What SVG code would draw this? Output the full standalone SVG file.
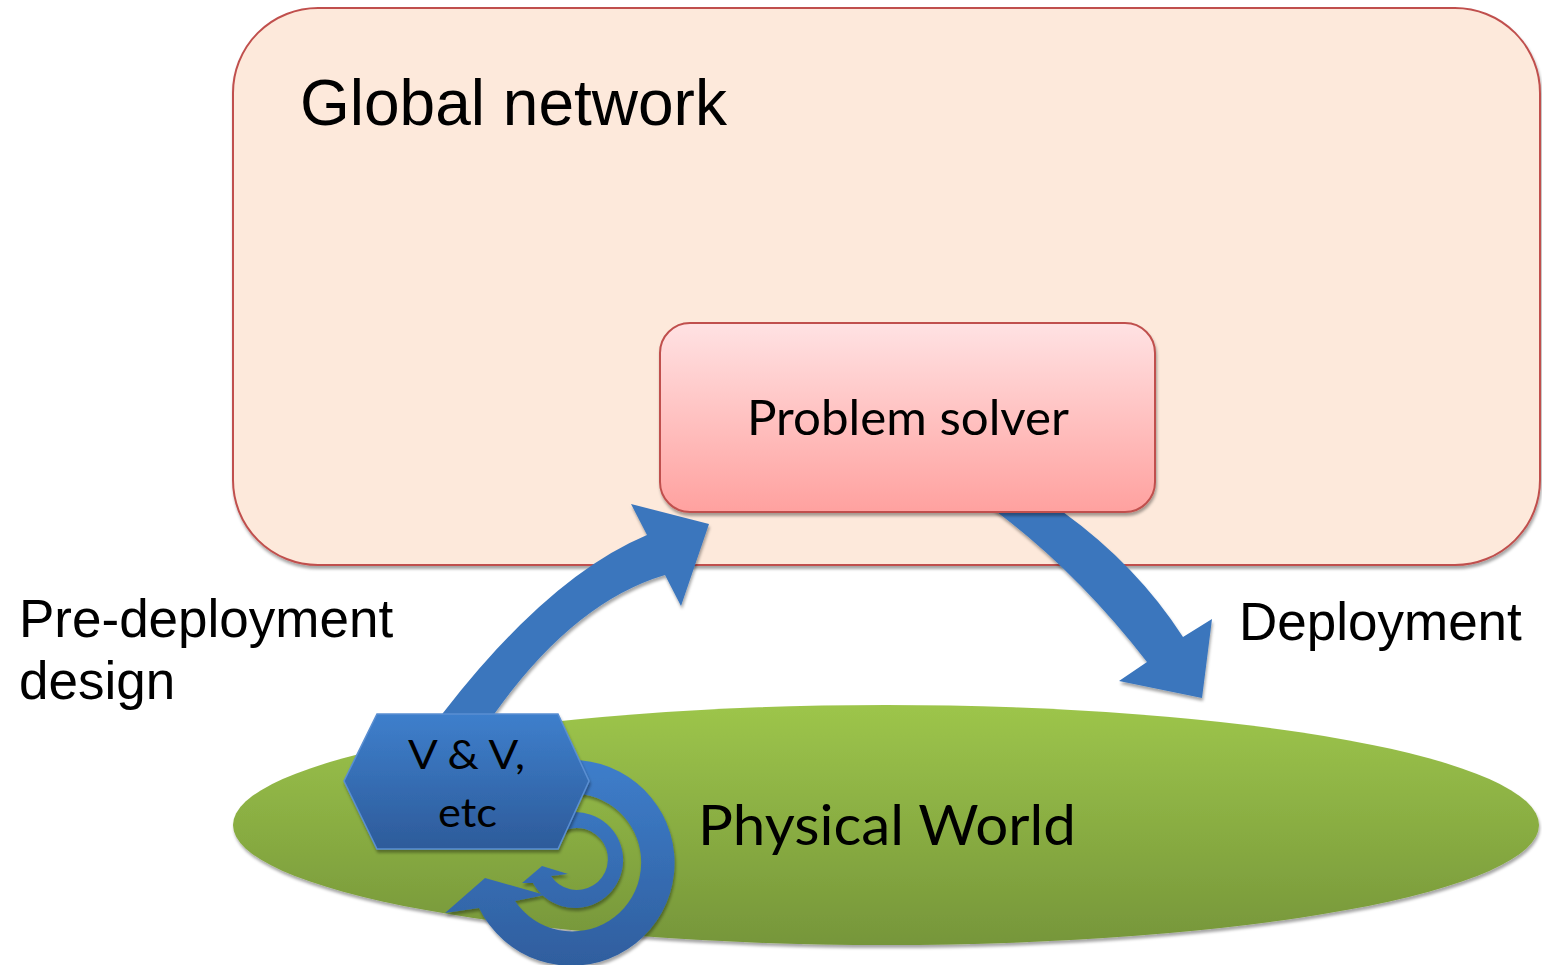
<svg xmlns="http://www.w3.org/2000/svg" width="1542" height="965" viewBox="0 0 1542 965">
<style>
.arial{font-family:"Liberation Sans",Arial,sans-serif;fill:#000}
.cal{font-family:Lato,"Open Sans",sans-serif;fill:#000}
.blue{fill:#3B76BD}
</style>
<defs>
<filter id="sh" x="-10%" y="-10%" width="120%" height="125%">
<feGaussianBlur in="SourceAlpha" stdDeviation="1.5"/>
<feOffset dx="1" dy="3" result="b"/>
<feFlood flood-color="#000" flood-opacity="0.35"/>
<feComposite in2="b" operator="in"/>
<feMerge><feMergeNode/><feMergeNode in="SourceGraphic"/></feMerge>
</filter>
<linearGradient id="gPS" x1="0" y1="0" x2="0" y2="1">
<stop offset="0" stop-color="#FFE2E3"/>
<stop offset="1" stop-color="#FFA19F"/>
</linearGradient>
<linearGradient id="gPW" x1="0" y1="0" x2="0" y2="1">
<stop offset="0" stop-color="#9DC54B"/>
<stop offset="1" stop-color="#76963A"/>
</linearGradient>
<linearGradient id="gHex" x1="0" y1="0" x2="0" y2="1">
<stop offset="0" stop-color="#3E7FCC"/>
<stop offset="1" stop-color="#2D5B9A"/>
</linearGradient>
<linearGradient id="gSp" gradientUnits="userSpaceOnUse" x1="0" y1="758" x2="0" y2="966">
<stop offset="0" stop-color="#3E7ECB"/>
<stop offset="1" stop-color="#2F5E9E"/>
</linearGradient>
</defs>

<g id="global-network">
<rect x="233" y="8" width="1307" height="557" rx="85" ry="85" fill="#FDE9DB" stroke="#C0504D" stroke-width="2" filter="url(#sh)"/>
<text class="arial" x="300" y="125" font-size="64">Global network</text>
</g>

<g id="physical-world">
<ellipse cx="886" cy="825" rx="653" ry="120" fill="url(#gPW)" filter="url(#sh)"/>
<text class="cal" x="698" y="845" font-size="56" textLength="378" lengthAdjust="spacingAndGlyphs">Physical World</text>
</g>

<g id="connectors">
<path id="pre-deployment-arrow" class="blue" filter="url(#sh)" d="M434,726 L443,713 Q549,576 647,535 L631,504 L709,524 L681,606 L665,575 Q574,602 495,713 L486.5,726 Z"/>
<path id="deployment-arrow" class="blue" filter="url(#sh)" d="M981,500 L997,512 Q1078,573 1147,662 L1119,681 L1202,698 L1212,619 L1183,637 Q1137,565.5 1063,512 L1046,500 Z"/>
<g id="vv-loop" filter="url(#sh)">
<path fill="url(#gSp)" d="M521.5,772.8 A103,103 0 1 1 479,908 L445,913 L485,878 L545,895 L515,901 A69,69 0 1 0 538.5,802.2 Z"/>
<path fill="url(#gSp)" d="M554.7,816.5 A48,48 0 1 1 533,883 L522,883 L542,866 L568,874 L551,876 A31,31 0 1 0 561.9,831.9 Z"/>
</g>
<text class="arial" x="19" y="637" font-size="53">Pre-deployment</text>
<text class="arial" x="19" y="699" font-size="53">design</text>
<text class="arial" x="1239" y="640" font-size="53">Deployment</text>
</g>

<g id="problem-solver">
<rect x="660" y="323" width="495" height="189" rx="30" ry="30" fill="url(#gPS)" stroke="#C0504D" stroke-width="2" filter="url(#sh)"/>
<text class="cal" x="747" y="435" font-size="49" textLength="322" lengthAdjust="spacingAndGlyphs">Problem solver</text>
</g>

<g id="vv-etc">
<polygon points="377,714 558,714 589,781 558,849 377,849 344,781" fill="url(#gHex)" stroke="#5A8FD2" stroke-width="1.5" filter="url(#sh)"/>
<text class="cal" x="408" y="769" font-size="41" textLength="117" lengthAdjust="spacingAndGlyphs">V &amp; V,</text>
<text class="cal" x="438" y="827" font-size="41" textLength="59" lengthAdjust="spacingAndGlyphs">etc</text>
</g>
</svg>
